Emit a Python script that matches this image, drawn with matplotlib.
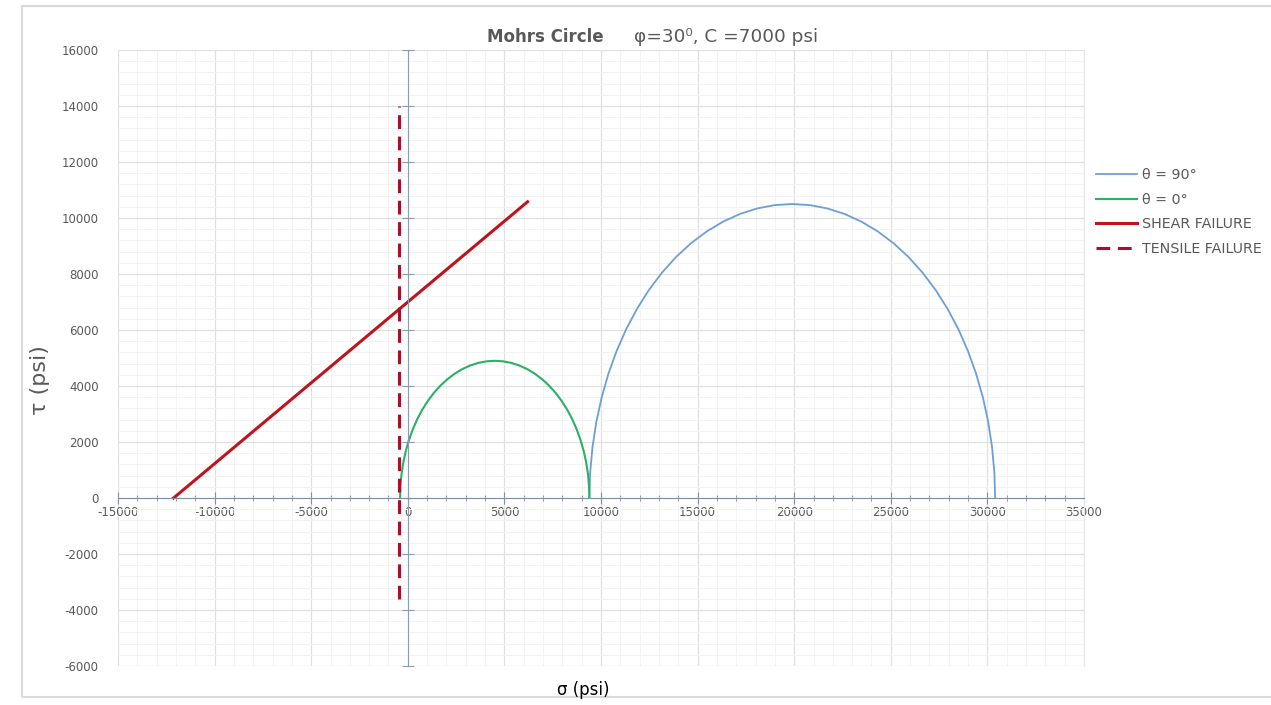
import matplotlib.pyplot as plt
from matplotlib.ticker import MultipleLocator
from matplotlib.patches import Rectangle

plt.rcParams["axes.unicode_minus"] = False

# theta = 90 deg circle (sigma, tau)
sig_90 = [9400, 9440, 9560, 9758, 10033, 10384, 10807, 11298, 11857, 12475,
          13151, 13877, 14650, 15463, 16309, 17183, 18077, 18984, 19900,
          20816, 21723, 22617, 23491, 24337, 25150, 25923, 26649, 27325,
          27943, 28502, 28993, 29416, 29767, 30042, 30240, 30360, 30400]
tau_90 = [0, 916, 1823, 2717, 3591, 4437, 5250, 6023, 6749, 7425,
          8043, 8602, 9093, 9516, 9867, 10142, 10340, 10460, 10500,
          10460, 10340, 10142, 9867, 9516, 9093, 8602, 8043, 7425,
          6749, 6023, 5250, 4437, 3591, 2717, 1823, 916, 0]

# theta = 0 deg circle
sig_0 = [-400, -381, -326, -233, -105, 59, 257, 486, 746, 1035,
         1350, 1689, 2050, 2429, 2824, 3232, 3649, 4073, 4500,
         4927, 5351, 5768, 6176, 6571, 6950, 7311, 7650, 7965,
         8254, 8514, 8743, 8941, 9105, 9233, 9326, 9381, 9400]
tau_0 = [0, 427, 851, 1268, 1676, 2071, 2450, 2811, 3150, 3465,
         3754, 4014, 4243, 4441, 4605, 4733, 4826, 4881, 4900,
         4881, 4826, 4733, 4605, 4441, 4243, 4014, 3754, 3465,
         3150, 2811, 2450, 2071, 1676, 1268, 851, 427, 0]

# failure envelopes
shear_sig = [-12124, 6200]
shear_tau = [0, 10580]
tensile_sig = [-450, -450]
tensile_tau = [-3600, 14000]

y_ticks = list(range(-6000, 16001, 2000))

grey = "#595959"

fig = plt.figure(figsize=(12.71, 7.05), dpi=100)
# chart area border
fig.patches.append(Rectangle((22 / 1271, 1 - 697 / 705), 1.0, (697 - 6) / 705,
                             transform=fig.transFigure, fill=False,
                             edgecolor="#d9d9d9", lw=1.5))
ax = fig.add_axes([118 / 1271, 1 - 666 / 705, (1084 - 118) / 1271, (666 - 50) / 705])

ax.plot(sig_90, tau_90, color="#6d9ed6", lw=1.3, label="θ = 90°")
ax.plot(sig_0, tau_0, color="#2bb065", lw=1.5, label="θ = 0°")
ax.plot(shear_sig, shear_tau, color="#c0141c", lw=2.2, label="SHEAR FAILURE")
ax.plot(tensile_sig, tensile_tau, color="#a8102a", lw=2.2, ls=(0, (4.5, 2.5)),
        label="TENSILE FAILURE")

ax.set_xlim(-15000, 35000)
ax.set_ylim(-6000, 16000)
ax.xaxis.set_major_locator(MultipleLocator(5000))
ax.xaxis.set_minor_locator(MultipleLocator(1000))
ax.set_yticks(y_ticks)
ax.yaxis.set_minor_locator(MultipleLocator(400))
ax.grid(which="major", color="#e0e0e0", lw=0.9)
ax.grid(which="minor", color="#f3f3f3", lw=0.7)
ax.set_axisbelow(True)

ax.spines["top"].set_visible(False)
ax.spines["right"].set_color("#e6e6e6")
ax.spines["bottom"].set_position(("data", 0))
ax.spines["left"].set_position(("data", 0))
ax.spines["bottom"].set_color("#7f8fa6")
ax.spines["left"].set_color("#8c9bb0")
ax.tick_params(axis="x", which="major", direction="inout", length=8, color="#7f8fa6",
               labelsize=8.5, labelcolor=grey, pad=2)
ax.tick_params(axis="x", which="minor", direction="inout", length=5, color="#7f8fa6")
ax.tick_params(axis="y", which="major", direction="inout", length=8, color="#8c9bb0",
               labelleft=False)
ax.tick_params(axis="y", which="minor", length=0)

# y tick labels stay at the left edge, like Excel's "low" label position
sec = ax.secondary_yaxis("left")
sec.set_yticks(y_ticks)
sec.spines["left"].set_visible(False)
sec.tick_params(length=0, labelsize=8.5, labelcolor=grey, pad=14)

fig.text(0.383, 1 - 37 / 705, "Mohrs Circle", ha="left", va="center",
         fontsize=12, fontweight="bold", color=grey)
fig.text(0.499, 1 - 37 / 705, "φ=30⁰, C =7000 psi", ha="left", va="center",
         fontsize=13.3, color=grey)
fig.text(40 / 1271, 1 - 380 / 705, "τ (psi)", rotation=90, ha="center", va="center",
         fontsize=16, color=grey)
fig.text(583 / 1271, 1 - 690 / 705, "σ (psi)", ha="center", va="center",
         fontsize=12, color="black")

leg = fig.legend(loc="upper left", bbox_to_anchor=(1083 / 1271, 1 - 155 / 705),
                 frameon=False, fontsize=10.3, handlelength=2.9, handletextpad=0.3,
                 labelspacing=0.75)
for t in leg.get_texts():
    t.set_color(grey)

fig.savefig("out.png", dpi=100)
